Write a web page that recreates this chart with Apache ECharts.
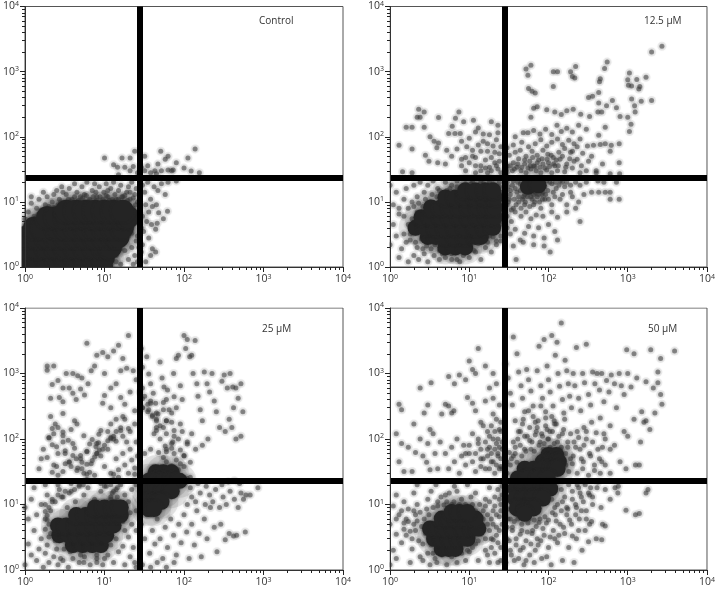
<!DOCTYPE html>
<html><head><meta charset="utf-8">
<style>html,body{margin:0;background:#fff}#c{width:718px;height:589px}</style>
<script src="https://cdn.jsdelivr.net/npm/echarts@6/dist/echarts.min.js"></script>
</head><body><div id="c"></div>
<script>
const panelLabels=['Control','12.5 µM','25 µM','50 µM'];
const tickValues=[1,10,100,1000,10000];
const gateX=28, gateY=23.2;
const controlCore=[1,1,1.4,1,1.9,1,2.5,1,3.3,1,4.4,1,5.8,1,7.6,1,9.3,1,1,1.4,1.4,1.4,1.9,1.4,2.5,1.4,3.3,1.4,4.4,1.4,5.8,1.4,7.6,1.4,9.8,1.4,1,2,1.4,2,1.9,2,2.5,2,3.3,2,4.4,2,5.8,2,7.6,2,10,2,12,2,1,2.9,1.4,2.9,1.9,2.9,2.5,2.9,3.3,2.9,4.4,2.9,5.8,2.9,7.6,2.9,10,2.9,13,2.9,15,2.9,1.3,4,1.7,4,2.5,4,3.3,4,4.4,4,5.8,4,7.6,4,10,4,13,4,17,4,1.9,5.8,2.5,5.8,3.3,5.8,4.4,5.8,5.8,5.8,7.6,5.8,10,5.8,13,5.8,17,5.8,20,5.8,3.3,7.3,4.4,7.3,5.8,7.3,7.6,7.3,10,7.3,13,7.3,17,7.3];
const controlCloud=[1,5.5,1.1,7,1.2,9.5,1.3,6,1.4,8,1.5,11,1.6,7.5,1.8,9,1.9,12,2,8.5,2.2,10,2.3,13,2.5,15,2.7,11,2.9,17,3.1,9.5,3.3,13,3.6,16,3.9,11,4.2,19,4.5,14,4.9,10,5.2,17,5.6,13,6,20,6.5,11,7,15,7.5,19,8,12,8.6,17,9.2,10,9.8,14,10.5,19,11,12,12,16,13,20,14,11,15,15,16,18,17,12,18,9.5,19,14,20,17,21,11,22,20,23,8,24,13,25,16,26,10,25,6,1.2,12,1.7,14,3,14,5,12,7.8,14,11,15,30,18,32,14,35,20,38,11,42,17,47,15,52,19,58,13,33,9,36,7,40,8.5,45,9,48,6.8,55,5.5,62,7.2,30,6,34,5,39,4.5,44,3.8,46,4.7,31,3.5,36,2.8,40,1.9,44,1.7,38,1.5,30,2.2,33,1.2,29,1.7,29,4,12,1.2,14,1.5,16,1.1,18,1.8,20,1.3,22,2,24,1.5,15,2.2,17,2.6,22,3.3,25,2.5,23,1.1,26,1.2,10,47,24,60,32,50,51,60,138,65,112,47,63,50,80,40,100,33,123,29.7,156,28,13,37,14.6,34,16.6,47,21,47,18,34,21,30,15,26,35,36,47,38,58,45,70,30,63,31,43,30,32,30,52,30,73,31,29,34,23,35,80,21,63,20,45,27,38,28,26,28];
const controlNear=[1.05,4.3,1.15,5.2,1.25,4.8,1.35,5.6,1.45,6.4,1.6,6,1.75,6.8,1.9,8,2.1,7.2,2.3,8.3,2.6,9,2.8,10,3.2,8.8,3.5,11,3.8,10,4.2,12,4.7,10.5,5.3,11.5,5.9,12.5,6.4,10,7.2,12,7.9,10.5,8.8,12,9.6,11,10.5,12.5,11.5,10.5,12.5,11,13.5,13,15,11,16.5,12,18,12.5,19.5,10.5,21,14,23,11.5,24.5,9,26,7,24,5,22,4,20,3,18,2.4,16,1.9,14,1.2,13,1.7,26,3,27,2];
const uM12Core=[5,2,6.7,2,8.9,2,3,2.9,3.8,2.9,5,2.9,6.7,2.9,8.9,2.9,12,2.9,14,2.9,2.1,4,2.8,4,3.8,4,5,4,6.7,4,8.9,4,12,4,16,4,20,4,2.5,5.8,3.3,5.8,4.4,5.8,5.8,5.8,7.6,5.8,10,5.8,13,5.8,17,5.8,21,5.8,3.3,8.2,4.4,8.2,5.8,8.2,7.6,8.2,10,8.2,13,8.2,17,8.2,21,8.2,5,11.7,6.7,11.7,8.9,11.7,12,11.7,16,11.7,21,11.7,8.9,15,12,15,16,15,20,15,55,17,75,18];
const uM12Cloud=[1.3,74,1.9,65,1.44,29,1.9,28,1.6,140,1.9,140,2.7,140,2.3,265,2.7,240,2.2,200,2.4,200,4.1,198,3.2,100,3.6,85,4.1,80,3.9,68,2.8,52,3.1,42,7.4,240,6.7,192,6.1,145,5.5,112,6.6,112,7.7,112,8.5,170,11.3,180,13,136,19,170,23,150,23,115,18,107,15,110,12,118,10,95,8,85,9.3,70,7,65,11,62,13,75,15,85,17,60,20,72,22,90,24,55,6,50,8,45,10,40,12,48,14,36,16,44,18,34,21,40,23,32,5,38,4,40,5.2,62,9,30,12,28,17,28,25,28,1,18,1.2,14,1.1,9,1.3,6.5,1.1,4.5,1.2,3,1,2.2,1.4,1.9,1.6,2.4,1.3,1.4,1.7,1.2,2,1.5,2.3,1.3,2.7,1.6,3,1.2,3.6,1.5,4.2,1.3,5,1.4,6,1.6,7,1.3,8.4,1.5,10,1.4,12,1.7,14,1.3,16,2,19,1.7,22,2.2,25,2.5,1.5,11,1.7,8,1.9,5.5,1.8,3.2,2.1,2.4,1.6,16,2,18,2.4,20,2.2,12,2.7,14,3,18,3.5,21,4,16,5,20,6,18,7,21,9,19,11,20,15,19,20,19,24,20,22,3.6,25,5,18,3,30,20,33,15,36,21,40,14,44,19,48,12,52,22,60,12,68,14,72,21,85,14,95,21,110,19,125,16,140,21,160,17,190,14,220,20,250,18,300,20,350,14,420,21,500,20,520,14,600,11,780,11,720,20,600,14,430,14,280,13,240,10,200,12,170,9,140,11,110,9,90,11,80,8,65,9,50,9,42,10,36,8,31,10,30,6,34,5,38,7,45,6,52,7,60,5.5,70,6.3,85,6,110,7,130,5.8,170,7,220,8,250,5,30,4,33,3.2,38,3.8,44,2.6,50,3.3,56,4.2,65,3,75,4,88,2.8,100,4.5,120,3.5,130,2.6,105,1.7,88,2.1,65,2.2,48,2.4,36,2.1,39,1.3,30,28,35,30,40,34,45,30,52,28,60,32,70,30,80,28,95,31,110,28,130,30,160,29,200,33,250,28,300,30,400,28,600,27,790,27,30,36,36,40,42,46,50,38,58,42,65,36,75,44,85,38,100,40,120,36,140,45,170,38,210,42,260,36,320,42,400,30,480,38,780,40,32,52,38,58,44,62,52,50,62,60,72,52,85,62,98,54,115,48,135,58,160,66,190,58,230,70,270,56,350,50,30,68,36,75,46,82,56,70,68,78,80,90,95,72,110,82,130,92,150,76,180,88,210,78,250,92,310,72,370,74,450,76,520,78,620,74,780,78,600,60,38,100,48,115,55,115,65,125,78,110,92,130,110,108,128,150,145,120,170,135,200,118,240,150,300,130,430,105,520,140,60,200,65,275,72,290,95,260,120,240,145,220,170,250,205,265,255,222,330,205,420,240,470,240,540,300,720,280,640,360,1000,200,1100,155,1050,120,800,205,1240,240,320,400,360,420,430,330,200,840,220,1200,130,1000,115,590,56,550,62,500,68,470,55,880,52,1100,60,1250,115,1000,190,1000,215,800,510,1120,550,1400,1420,590,1300,760,1120,380,430,480,440,700,450,780,1000,750,1050,950,1020,620,1120,600,1380,540,1220,300,1480,350,1700,820,2000,360,2000,2000,2700,2450];
const uM12Near=[1.3,8,1.5,6,1.7,4.5,1.5,3.2,1.8,2.6,2,3.4,2.2,2,2.5,2.7,2.9,2.1,2.6,1.9,3.3,1.9,3.7,2.2,4.2,1.8,4.6,1.6,5.4,1.7,6,1.3,6.8,1.7,7.6,1.2,8.5,1.7,9.5,1.9,10.5,2.2,11.5,1.8,13,2.3,15,2.6,17,2.4,20,2.9,22,2.5,25,3,24,4.4,25,6.5,25,9,2,8.5,2.2,6.9,1.9,10,2.3,9.5,2.6,8.5,2.8,11,3.2,10,3.4,13,3.9,12,4.2,15,4.6,13,5.2,15,5.7,16,6.4,14,7,17,7.6,16,8.4,18,9.5,17,10.5,19,12,18,14,20,16,18,18,20,21,18,24,17,26,14,29,21,31,17,33,13,35,18,38,16,41,20,44,15,47,18,50,13,53,20,57,14,61,19,65,13,69,15,74,13,78,21,83,13,90,17,98,15,104,20,115,14,122,20,135,18,150,20,170,20,190,18,29,12,30,9,32,11,34,7.5,37,11,39,9,42,12,45,8,47,11,51,10,54,12,58,8.5,62,11,67,10,72,12,77,10,84,11,92,13,100,11,120,12,150,13,30,32,33,36,37,32,41,38,46,34,50,44,55,33,59,36,63,48,67,35,72,40,78,34,83,46,90,33,96,45,103,35,108,52,116,38,125,44,133,36,150,50,165,34,185,46,200,60,230,45,14,30,16,33,19,30,22,36,24,42,19,48,21,58,25,70,17,78,14,60,11,50,9,48,12,36,8,36];
const uM25Core=[4,2.4,5.3,2.4,7,2.4,9,2.4,2.7,3.4,3.5,3.4,4.6,3.4,6,3.4,8,3.4,10.5,3.4,2.6,4.8,3.3,4.8,4.4,4.8,5.8,4.8,7.6,4.8,10,4.8,13,4.8,4.4,6.9,5.8,6.9,7.6,6.9,10,6.9,13,6.9,16,6.9,7.6,9,10,9,13,9,16,9,44,31,55,31,70,31,36,23,44,23,55,23,70,23,88,23,36,16,44,16,55,16,70,16,36,11,44,11,52,11,36,8.5,42,8.5];
const uM25Cloud=[1,9,1.1,6,1.2,12,1.3,4,1.1,2.5,1.2,1.7,1,1.2,1.4,1.4,1.7,1.1,1.5,2.1,1.6,3,1.8,1.8,2,1.3,2.3,1.6,2.6,1.2,3,1.4,3.5,1.1,4,1.5,4.8,1.3,5.6,1.6,6.6,1.2,8,1.5,9.5,1.2,11,1.7,13,1.3,15,1.9,18,1.2,21,1.6,24,1.3,12,2.4,14,3,17,2.3,20,3.2,23,2.2,18,4,22,5,25,4,17,5.5,21,7.5,25,8,1.4,7,1.6,10,1.8,6,1.9,14,2.1,8,2.4,11,2.7,17,3,13,3.4,9,3.8,16,4.3,11,4.8,20,5.5,14,6.2,18,7.5,12,9,16,10.5,19,12,13,14,17,16,20,18,14,20,11,22,17,25,20,1.3,18,1.8,20,2.6,20,3.8,21,29,5,32,3,34,7,37,1.8,40,4,43,2.5,46,6,50,3,54,1.5,58,4.5,62,2.2,68,6,74,3.4,80,1.7,86,5,92,2.6,100,7,108,3.8,116,1.5,125,5,135,2.4,145,8,155,3.6,165,1.6,180,6,195,3,215,9,240,4.5,260,1.9,290,5,330,2.9,370,3.6,420,3.3,460,3.4,590,3.8,110,10,125,13,140,11,160,15,185,10,210,14,230,11,250,17,280,9,310,13,340,10,380,16,430,12,480,9,520,15,560,12,600,14,680,14,850,18,300,20,360,22,430,23,500,21,120,18,150,21,190,19,30,1.2,38,1.1,46,1.3,60,1.1,75,1.3,2.3,40,2.6,28,3,32,3.2,60,3.6,44,4,85,4.6,36,5,50,5.5,30,6,65,6.8,42,7.5,28,8,85,9,55,10,38,11,70,12,30,13,110,14,50,15,34,16,135,17,60,18,40,19,90,20,30,21,70,22,48,24,36,25,90,26,55,11,130,12,105,14,92,8,60,9.5,70,2,105,2.2,145,2.4,170,2.1,420,2.6,780,2.2,680,2.3,1300,1.9,1300,1.9,1120,3.3,1000,4,1000,4.6,920,5.2,850,3,600,3.6,600,2.7,430,3,370,4,500,4.4,400,5,580,5.6,470,6.2,700,6.8,1100,7.5,1300,8,1900,9.5,2100,10,1000,11,1800,13,2200,15,2700,17,1700,20,3800,6,2900,19,1200,16,1100,14,700,12,600,10,460,9.5,350,12,300,14,200,16,430,18,340,21,520,24,270,25,800,23,1100,29,2400,30,1250,34,1800,36,980,38,700,41,500,44,350,47,240,50,1500,53,850,56,620,60,400,65,280,70,180,74,1000,80,1700,85,1900,90,650,95,400,100,3800,105,2400,110,3300,118,1800,125,1900,130,1000,138,3200,145,700,150,450,160,280,170,190,180,1050,195,700,210,520,225,1000,240,380,255,260,280,150,300,760,320,950,350,600,380,1000,410,620,450,600,520,700,480,420,550,260,420,300,370,200,450,100,520,110,400,150,330,130,200,100,170,80,140,70,125,120,110,90,95,130,85,100,70,85,60,70,48,62,38,70,32,60,100,55,120,44,100,38,85,34,60,30,45,150,45,190,36,280,38,350,30,410,32,450,28,520,30,300,45,250,40,230,55,280,60,190,50,160,45,135,42,120,45,200,70,250,80,300,55,360,75,440,62,560,30,600,25];
const uM25Near=[1.1,8,1.3,10,1.5,8,1.7,5.5,1.3,2.8,1.5,5,1.7,3.7,1.9,2.5,2.1,4.8,2.2,3.1,2.1,1.9,2.4,2.4,2.8,2,3.2,2.1,3.6,1.8,4.2,2,5,1.9,5.8,1.9,6.8,1.8,7.8,2,9,1.8,10,2.2,11,2.9,13,2.2,12,3.6,15,2.6,14,4.2,17,3.2,16,4.8,19,5.4,20,6.5,23,6,24,9,21,10,19,9,2.3,6.7,2.7,7,3.1,6.2,2.9,8,3.4,7.4,3.8,8.8,4,6.6,4.4,9.2,5,8,5.4,10.3,5.9,8.8,6.6,10,7,12,7.6,11,8.4,13,9.3,11.5,10,14,11,12,12,14.5,13,12.5,15,13,16,14.5,18,12,20,15,22,13,24,15,26,13,29,6.5,31,4.5,33,5.2,35,3.8,38,6,41,5.2,44,7,47,4.4,50,7.5,53,5,56,8,60,6,64,8.6,68,4.2,72,7.8,76,10,80,6.5,84,8.4,88,11,94,7,98,12,102,5.5,112,8.5,118,14,130,9,135,16,148,12,170,13,100,17,110,21,130,20,145,24,170,18,200,17,220,24,29,2.2,31,1.5,35,2.5,38,3.2,42,3.6,45,1.6,50,1.9,52,4,56,2.6,60,3.2,66,1.7,70,2.5,76,2.2,82,3,90,3.5,96,2,104,3,112,2.3,120,3,128,3.8,140,2.6,150,4.5,170,4.2,190,2.1,220,3,245,6,29,45,31,60,33,50,36,42,36,70,39,90,42,60,45,80,48,55,52,100,56,75,60,60,64,90,68,70,72,58,78,110,84,72,90,50,100,75,110,60,120,75,135,55,150,90,170,60,190,40,220,35,260,30,300,35,340,38,380,28,7,30,9,33,11,40,12,48,13,60,13,35,14,44,15,70,16,48,17,38,17,80,18,55,19,30,19,70,20,42,20,100,21,55,22,35,22,85,23,62,24,44,24,110,25,30,25,70,26,120,26,40];
const uM50Core=[4.5,2.1,5.5,2.1,6.7,2.1,3.6,3,4.6,3,5.8,3,7.5,3,9.5,3,3.2,4.3,4,4.3,5,4.3,6.5,4.3,8.5,4.3,11,4.3,13,4.3,4.5,6.1,5.5,6.1,7,6.1,9,6.1,12,6.1,6,7.7,7.5,7.7,9.5,7.7,100,57,125,57,85,45,110,45,135,45,50,35,65,35,85,35,110,35,130,35,41,25,55,25,74,25,98,25,38,17.5,50,17.5,65,17.5,85,17.5,105,17.5,38,12.3,50,12.3,65,12.3,85,12.3,40,8.7,52,8.7,65,8.7,50,7.2];
const uM50Cloud=[1,1.2,1.1,2,1.2,3.5,1,5,1.3,7,1.1,9.5,1.2,1.5,1.4,2.6,1.5,4.2,1.6,6,1.7,8.5,1.5,11,1.8,1.3,1.9,3,2,5,2.1,7,2.2,10,2,15,2.4,1.6,2.6,2.5,2.7,6,2.9,8.5,3,12,3.2,1.2,3.5,1.8,3.3,16,3.9,1.3,4,11,4.5,1.7,5,14,5.2,1.2,6,10,6.5,19,7,16,8,12,9,1.4,9.5,20,10,1.9,11,10,12,2.5,12,15,13,1.4,14,3.5,15,8,16,2,16,12,17,5,18,1.3,18,18,19,3,20,8,21,1.8,21,13,22,4.5,23,2.6,23,17,24,6.5,25,1.4,25,10,26,19,3.8,20,2.2,20,1.2,14,29,1.3,30,3,31,6,33,2,35,4.5,37,1.4,39,3,41,6,44,2,46,4,49,1.2,52,2.8,55,5.2,58,1.7,62,3.6,66,1.3,70,4.6,74,2.4,78,6,82,1.5,88,3.4,94,5.2,100,2.2,108,1.2,115,4,122,7,130,2.6,140,5,150,1.4,160,3.6,170,7,180,2.2,195,5,210,1.3,225,3,245,6,265,2,290,4,320,2.7,350,5.5,400,3,470,2.9,480,5,520,4.7,120,9,150,11,175,8.5,200,12,225,9,250,15,275,11,300,8,330,14,360,10,410,18,460,9,600,12,520,17,690,18,750,15,760,19,950,8.2,1250,7,1400,7.3,1700,15,1800,17,230,20,280,22,340,18,420,22,1.2,120,1.4,85,1.3,45,1.5,32,1.9,32,1.3,340,1.4,280,2,170,1.7,75,2.1,62,2.4,100,2.6,55,2.9,44,3,85,3.2,34,3.5,120,3.7,60,4,35,4.3,90,2.4,600,3.3,720,2.7,250,3,330,3.2,140,4.5,240,5,340,5.5,320,6,250,6.4,270,5,60,5.5,35,6,75,6.5,45,7,100,7.5,30,8,55,8.5,80,9,40,10,60,11,120,12,32,13,85,14,50,15,160,16,35,17,70,18,110,19,45,20,240,21,30,22,85,23,55,24,140,25,38,26,70,5.5,900,6.5,700,7.5,950,9,800,10,1550,11,1150,12,1000,13,2400,16,1300,20,1000,9.5,430,11,350,12,270,14,180,16,380,18,600,20,420,22,700,24,330,25,180,29,1400,31,850,33,500,35,330,36,3600,38,190,40,2000,42,1050,45,650,47,420,50,260,53,1150,56,800,60,540,64,320,68,180,72,1100,76,2600,80,650,84,420,88,3300,92,260,96,1300,100,800,105,520,110,3800,114,320,118,190,122,1900,128,3000,132,1000,138,640,145,5900,150,400,156,250,162,1600,170,1100,178,700,185,450,195,300,205,1000,215,650,225,2500,240,420,255,270,270,1000,285,720,300,2800,320,480,340,330,360,1050,385,700,410,1000,440,560,470,1000,500,370,540,780,580,520,620,950,680,700,720,300,780,1000,830,650,900,480,970,2300,1000,1000,1100,620,1200,2000,1300,850,1500,260,1700,750,1950,2300,2100,600,2400,1050,2600,1700,2700,340,2600,480,3900,2200,2400,720,2200,250,1900,140,1600,180,1450,90,1000,110,1200,200,1700,190,30,30,33,40,36,55,38,75,41,100,44,130,47,170,50,70,54,110,58,150,62,90,66,65,70,130,74,190,78,90,82,120,86,70,92,160,98,100,104,130,110,220,118,85,125,170,135,110,145,75,155,140,165,60,175,90,190,120,205,55,220,75,240,105,260,50,280,80,300,130,330,60,360,90,400,125,440,50,480,75,520,100,600,70,680,80,800,45,950,35,1250,40,1400,40,520,40,450,30,380,33,320,28,270,35,230,30,200,42,180,32,165,40,600,30,280,150,350,180,450,210,600,160,900,130];
const uM50Near=[1.2,6,1.4,8,1.5,5.2,1.6,3.4,1.7,5.5,1.8,3.9,1.9,2.1,2,8,2.1,4,2.2,5.6,2.3,2.8,2.4,7.6,2.5,4.6,2.6,1.4,2.8,3.6,2.9,5,3,1.8,3.1,7,3.3,2.4,3.5,9,3.7,1.5,4,9.5,4.4,13,4.8,9.8,5.2,11,5.6,15,6,1.6,6.4,11,7,1.3,7.5,10,8,1.8,8.5,2.5,9,10,9.5,2,10,2.6,10.5,13,11,2.2,11.5,3.5,12,8,13,2.8,13.5,10,14,5.2,15,4,15,6,16,3,16,9.5,17,7,17,1.7,18,4,18,11,19,2.2,19,6,20,5,20,2.9,21,9.5,22,3.4,22,7,23,1.3,24,4,24,12,25,2.2,25,8,26,5,26,14,29,7,30,4.5,31,8.5,32,2.8,33,6,34,1.7,35,4,37,5.5,39,2.4,40,7,42,1.5,44,3.5,46,5,48,2.2,50,6.4,52,1.4,54,3.8,57,6,60,2.5,63,4,66,5.8,68,2,72,3,76,5.3,80,2.8,85,4.3,90,6.5,95,1.6,100,5.8,105,3.2,112,7.5,120,3,125,5.6,135,3.4,145,8,155,4.5,170,9,185,5.8,200,3.3,220,7,240,4,260,8,300,6,330,5,110,12,120,16,130,10,145,17,160,13,180,20,200,16,220,10,240,18,260,13,290,20,320,15,360,13,30,45,32,62,34,50,36,90,38,60,40,44,42,130,44,80,46,55,48,200,50,110,52,65,56,270,58,95,60,70,64,220,68,115,72,150,76,80,80,320,84,110,88,85,92,210,96,140,100,100,105,75,112,130,120,170,130,90,140,70,150,120,160,200,175,75,190,50,210,90,230,130,250,70,275,45,300,100,340,55,380,40,420,70,470,45,500,120,9,60,10,80,11,45,12,60,13,100,14,70,14,38,15,50,16,90,17,55,17,130,18,35,18,75,19,60,19,160,20,100,20,45,21,70,21,130,22,40,22,200,23,100,23,60,24,35,24,75,25,130,25,50,26,90,26,35];
const clouds=[controlCloud.concat(controlNear),uM12Cloud.concat(uM12Near),uM25Cloud.concat(uM25Near),uM50Cloud.concat(uM50Near)];
const cores=[controlCore,uM12Core,uM25Core,uM50Core];
const pairs=f=>{const o=[];for(let i=0;i+1<f.length;i+=2)o.push([f[i],f[i+1]]);return o;};
const boxes=[{left:22,top:4},{left:390,top:4},{left:22,top:308},{left:390,top:308}];
const sizes=[{width:321,height:263},{width:320,height:263},{width:321,height:262},{width:320,height:262}];
const titlePos=[[254,11],[639,11],[257,319],[643,319]];
const strips=[[0,0,21.5,589],[344,0,45.5,589],[0,267.5,718,40],[0,570.5,718,18.5]];
const fmt=v=>`{b|10}{s|${Math.round(Math.log10(v))}}`;
const rich={b:{fontSize:10.5,color:'#333',fontFamily:'Open Sans'},s:{fontSize:7,color:'#333',fontFamily:'Open Sans',verticalAlign:'bottom',padding:[0,0,6,0]}};
const axis=(i)=>({type:'log',logBase:10,gridIndex:i,min:1,max:10000,zlevel:1,axisLine:{show:true,onZero:false,lineStyle:{color:'#333',width:1}},
 axisTick:{show:true,length:5,lineStyle:{color:'#222'}},minorTick:{show:true,splitNumber:9,length:3,lineStyle:{color:'#222'}},splitLine:{show:false},minorSplitLine:{show:false},
 axisLabel:{formatter:fmt,rich,margin:6,showMinLabel:true,showMaxLabel:true,hideOverlap:false}});
const option={animation:false,backgroundColor:'#fff',
 title:panelLabels.map((t,i)=>({text:t,left:titlePos[i][0],top:titlePos[i][1],zlevel:1,textStyle:{fontFamily:'Open Sans',fontSize:10,fontWeight:'normal',color:'#333'}})),
 grid:boxes.map((b,i)=>({...b,...sizes[i],show:true,borderColor:'#555',borderWidth:1,backgroundColor:'transparent'})),
 xAxis:boxes.map((b,i)=>axis(i)),yAxis:boxes.map((b,i)=>axis(i)),
 graphic:strips.map(s=>({type:'rect',z:50,silent:true,shape:{x:s[0],y:s[1],width:s[2],height:s[3]},style:{fill:'#fff'}})),
 series:[]};
boxes.forEach((b,i)=>{
 const base={type:'scatter',xAxisIndex:i,yAxisIndex:i,silent:true,clip:true};
 const r=i==0?22:16;
 option.series.push({...base,data:pairs(cores[i]),symbolSize:r+18,z:2,itemStyle:{color:'#444',opacity:.13,shadowBlur:6,shadowColor:'rgba(60,60,60,.3)'}});
 option.series.push({...base,data:pairs(clouds[i]),symbolSize:9,z:2,itemStyle:{color:'#666',opacity:.1}});
 option.series.push({...base,data:pairs(clouds[i]),symbolSize:5,z:3,itemStyle:{color:'#333',opacity:.5,shadowBlur:3,shadowColor:'rgba(60,60,60,.55)'}});
 option.series.push({...base,data:pairs(cores[i]),symbolSize:r,z:4,itemStyle:{color:'#242424',opacity:1,shadowBlur:3,shadowColor:'rgba(40,40,40,.7)'},
  markLine:{silent:true,symbol:'none',animation:false,label:{show:false},lineStyle:{color:'#000',width:6,type:'solid'},data:[{xAxis:gateX},{yAxis:gateY}]}});
});
echarts.init(document.getElementById('c'),null,{renderer:'canvas'}).setOption(option);
</script></body></html>
